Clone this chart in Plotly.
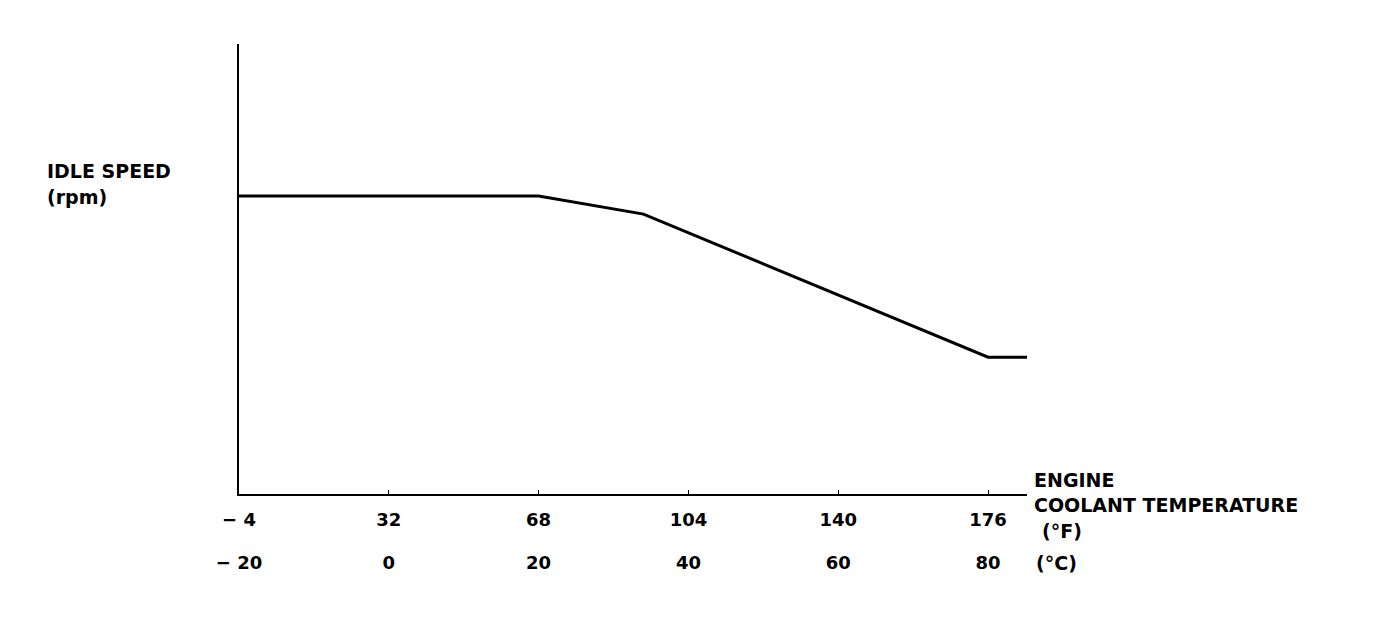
import plotly.graph_objects as go

# Data (engine coolant temperature in °C, idle speed in relative units – no scale given)
temp_c = [-20, 20, 34, 80, 85.2]
idle_speed = [66.2, 66.2, 62.2, 30.4, 30.4]

tick_c = [-20, 0, 20, 40, 60, 80]
tick_f_text = ["− 4", "32", "68", "104", "140", "176"]
tick_c_text = ["− 20", "0", "20", "40", "60", "80"]

FONT = "DejaVu Sans"
W, H = 1392, 632
OFF = 8  # page body margin
PL, PR, PT, PB = 239, 1027, 44, 494  # plot area in page pixels
L = PL - OFF
T = PT - OFF
R = W - L - (PR - PL)
B = H - T - (PB - PT)

fig = go.Figure()
fig.add_trace(go.Scatter(x=temp_c, y=idle_speed, mode="lines",
                         line=dict(color="black", width=3), showlegend=False,
                         hoverinfo="skip"))
fig.add_trace(go.Scatter(x=temp_c, y=idle_speed, mode="lines", xaxis="x2",
                         line=dict(color="rgba(0,0,0,0)", width=0), showlegend=False,
                         hoverinfo="skip"))

tfont = dict(family=FONT, size=18, color="black")
axis_common = dict(range=[-20, 85.2], showgrid=False, zeroline=False,
                   tickvals=tick_c, tickfont=tfont)

fig.update_layout(
    width=W, height=H,
    margin=dict(l=L, r=R, t=T, b=B),
    paper_bgcolor="white", plot_bgcolor="white",
    font=dict(family=FONT, color="black"),
    xaxis=dict(**axis_common, ticktext=[f"<b>{t}</b>" for t in tick_f_text], showline=True,
               linecolor="black", linewidth=2, ticks="inside", ticklen=4, tickwidth=1,
               tickcolor="black", ticklabelstandoff=8),
    xaxis2=dict(**axis_common, ticktext=[f"<b>{t}</b>" for t in tick_c_text], overlaying="x",
                anchor="y", side="bottom", showline=False, ticks="", ticklabelstandoff=56),
    yaxis=dict(range=[0, 100], showgrid=False, zeroline=False, showline=True,
               linecolor="black", linewidth=2, showticklabels=False, ticks=""),
)

def px_x(px):
    return (px - PL) / (PR - PL)

def px_y(py):
    return (PB - py) / (PB - PT)

ann_font = dict(family=FONT, size=19, color="black")
labels = [
    ("IDLE SPEED", 45, 171),
    ("(rpm)", 45, 197),
    ("ENGINE", 1032, 480),
    ("COOLANT TEMPERATURE", 1032, 505),
    ("(°F)", 1040, 531),
    ("(°C)", 1034, 563),
]
for text, x, y in labels:
    fig.add_annotation(text=f"<b>{text}</b>", x=px_x(x), y=px_y(y), xref="paper", yref="paper",
                       xanchor="left", yanchor="middle", showarrow=False, font=ann_font)

fig.write_html("out.html")
